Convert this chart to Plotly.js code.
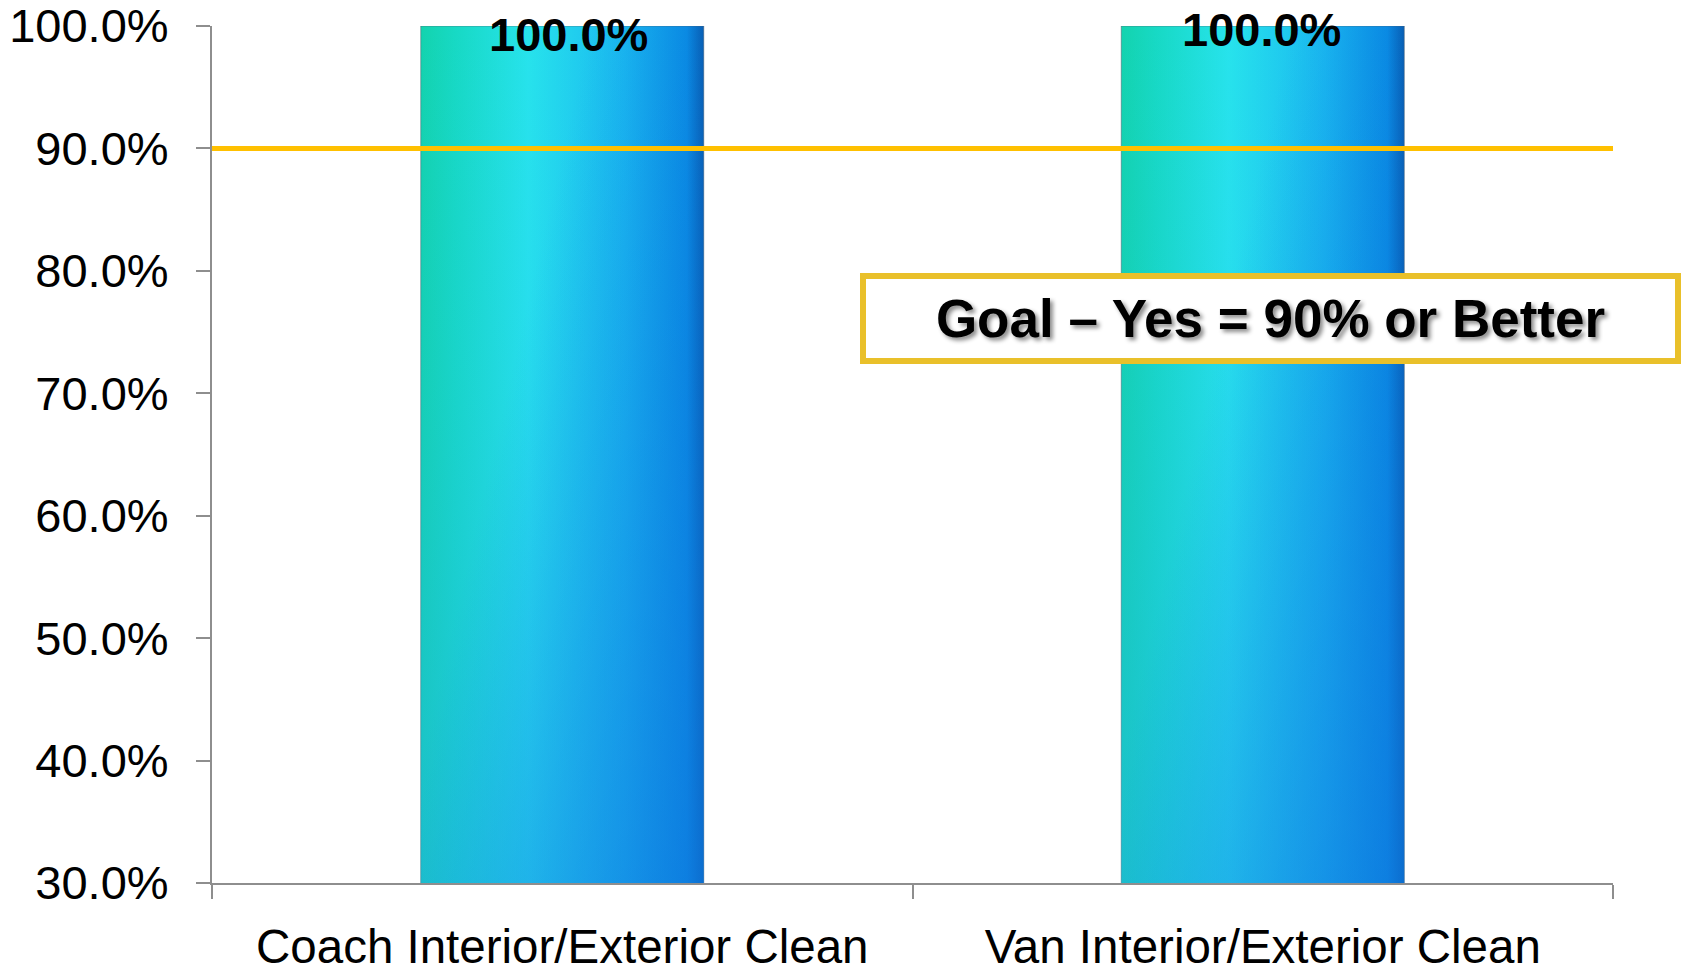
<!DOCTYPE html>
<html>
<head>
<meta charset="utf-8">
<script src="https://cdn.plot.ly/plotly-3.0.1.min.js"></script>
<style>
  html, body { margin: 0; padding: 0; background: #ffffff; }
  #chart { width: 1685px; height: 976px; }
  #defs { position: absolute; width: 0; height: 0; overflow: hidden; }
</style>
</head>
<body>
<svg id="defs" width="0" height="0">
  <defs>
    <linearGradient id="gradH" x1="0" y1="0" x2="1" y2="0">
      <stop offset="0" stop-color="#13d3ae"/>
      <stop offset="0.12" stop-color="#17d9c4"/>
      <stop offset="0.38" stop-color="#27e3ec"/>
      <stop offset="0.72" stop-color="#1ab8f0"/>
      <stop offset="0.94" stop-color="#0c92e6"/>
      <stop offset="1" stop-color="#0a5fae"/>
    </linearGradient>
    <linearGradient id="gradV" x1="0" y1="0" x2="0" y2="1">
      <stop offset="0" stop-color="#28aaf5" stop-opacity="0"/>
      <stop offset="0.3" stop-color="#28aaf5" stop-opacity="0.12"/>
      <stop offset="1" stop-color="#28aaf5" stop-opacity="0.66"/>
    </linearGradient>
    <linearGradient id="gradD" x1="0.3" y1="0.3" x2="1" y2="1">
      <stop offset="0" stop-color="#005ad2" stop-opacity="0"/>
      <stop offset="1" stop-color="#005ad2" stop-opacity="0.6"/>
    </linearGradient>
  </defs>
</svg>
<div id="chart"></div>
<script>
// ---- data ----
const categories = ["Coach Interior/Exterior Clean", "Van Interior/Exterior Clean"];
const values = [100.0, 100.0];
const valueLabels = ["100.0%", "100.0%"];
const goalValue = 90.0;
const goalText = "Goal \u2013 Yes = 90% or Better";
const yTickValues = [30, 40, 50, 60, 70, 80, 90, 100];
const yTickLabels = ["30.0%", "40.0%", "50.0%", "60.0%", "70.0%", "80.0%", "90.0%", "100.0%"];

// ---- style ----
const FONT = '"Liberation Sans", Arial, Helvetica, sans-serif';
const AXIS_GREY = '#8e8e8e';
const labelStyle = { xshift: [6, -1], yshift: [-8, -3] };

function barTrace(color, lineColor, lineWidth) {
  return {
    type: 'bar', x: categories, y: values,
    marker: { color: color, line: { color: lineColor, width: lineWidth } },
    hoverinfo: 'skip', showlegend: false
  };
}

const traces = [
  barTrace('#1ec8ea', 'rgba(80,100,110,0.55)', 1),
  barTrace('rgba(40,170,245,0.3)', 'rgba(0,0,0,0)', 0),
  barTrace('rgba(0,90,210,0.3)', 'rgba(0,0,0,0)', 0)
];

const annotations = categories.map((c, i) => ({
  x: c, y: values[i], xref: 'x', yref: 'y',
  text: valueLabels[i], showarrow: false,
  xanchor: 'center', yanchor: 'middle',
  xshift: labelStyle.xshift[i], yshift: labelStyle.yshift[i],
  font: { family: FONT, size: 47, color: '#000000', weight: 'bold' }
}));

annotations.push({
  x: 0.7555, y: 0.659, xref: 'paper', yref: 'paper',
  xanchor: 'center', yanchor: 'middle',
  text: '<b>' + goalText + '</b>', showarrow: false,
  width: 809, height: 79, borderpad: 0,
  bgcolor: '#ffffff', bordercolor: '#E9C02A', borderwidth: 6,
  font: { family: FONT, size: 53, color: '#000000', shadow: '3px 3px 4px rgba(0,0,0,0.45)' }
});

const layout = {
  width: 1685, height: 976,
  margin: { l: 212, r: 72, t: 26, b: 93, pad: 0 },
  paper_bgcolor: '#ffffff', plot_bgcolor: '#ffffff',
  barmode: 'overlay', bargap: 0.596,
  showlegend: false,
  xaxis: {
    type: 'category',
    showgrid: false, zeroline: false,
    showline: true, linecolor: AXIS_GREY, linewidth: 2,
    ticks: 'outside', tickson: 'boundaries', ticklen: 14, tickwidth: 2, tickcolor: AXIS_GREY,
    ticklabelstandoff: 21, ticklabeloverflow: 'allow',
    tickfont: { family: FONT, size: 47.5, color: '#000000' },
    fixedrange: true
  },
  yaxis: {
    range: [30, 100],
    tickmode: 'array', tickvals: yTickValues, ticktext: yTickLabels,
    showgrid: false, zeroline: false,
    showline: true, linecolor: AXIS_GREY, linewidth: 2,
    ticks: 'outside', ticklen: 14, tickwidth: 2, tickcolor: AXIS_GREY,
    ticklabelstandoff: 18, ticklabeloverflow: 'allow',
    tickfont: { family: FONT, size: 47, color: '#000000' },
    fixedrange: true
  },
  shapes: [{
    type: 'line', xref: 'paper', yref: 'y',
    x0: 0, x1: 1, y0: goalValue, y1: goalValue,
    line: { color: '#FFC000', width: 5 }, layer: 'above'
  }],
  annotations: annotations
};

Plotly.newPlot('chart', traces, layout, { staticPlot: true, displayModeBar: false }).then(function (gd) {
  const traceGroups = gd.querySelectorAll('.barlayer .trace');
  const fills = ['url(#gradH)', 'url(#gradV)', 'url(#gradD)'];
  traceGroups.forEach(function (g, i) {
    g.querySelectorAll('path').forEach(function (p) {
      p.style.fill = fills[i] || p.style.fill;
      p.style.fillOpacity = 1;
    });
  });
});
</script>
</body>
</html>
